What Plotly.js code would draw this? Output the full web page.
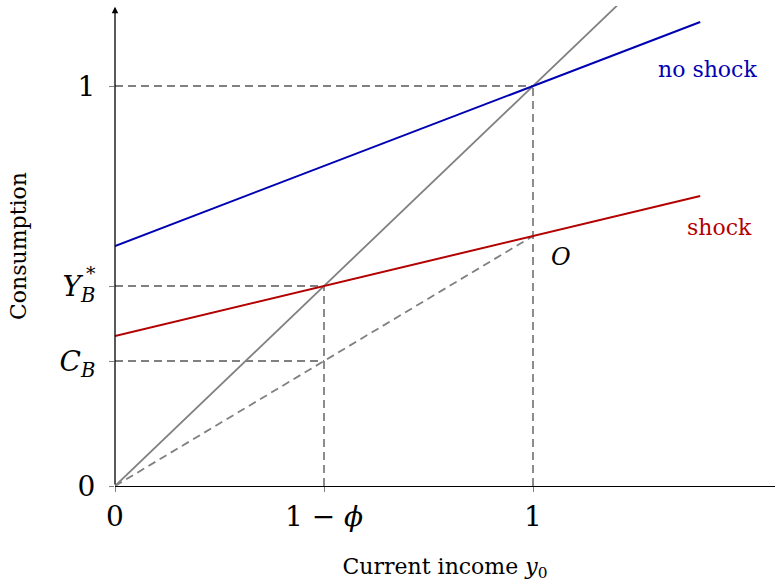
<!DOCTYPE html>
<html><head><meta charset="utf-8">
<script src="https://cdn.plot.ly/plotly-3.0.1.min.js"></script>
<style>html,body{margin:0;padding:0;background:#fff}#c{width:775px;height:586px}</style>
</head><body><div id="c"></div>
<script>
// data
const phi = 0.5;
const noShockX = [0, 1.4];
const noShockY = [0.6, 1.16];
const shockX = [0, 1.4];
const shockY = [0.375, 0.725];
const diagX = [0, 1.25];
const diagY = [0, 1.25];
const rayX = [0, 1];
const rayY = [0, 0.625];
const xTickVals = [0, 1 - phi, 1];
const xTickText = ['0', '1 \u2212 <i>\u03d5</i>', '1'];
const yTickVals = [0, 0.3125, 0.5, 1];
const yTickText = ['0', '<i>C</i><sub><i>B</i></sub>', '<i>Y</i><sub><i>B</i></sub>', '1'];
const guideH = [[0, 1, 1], [0, 0.5, 0.5], [0, 0.5, 0.3125]]; // x0,x1,y
const guideV = [[1, 0, 1], [0.5, 0, 0.5]]; // x,y0,y1

const FONT = 'DejaVu Serif, Liberation Serif, serif';
const BLUE = '#0000b3', RED = '#b30000', GRAY = '#808080';
const DASH = '8px,5px';

const traces = [];
guideH.forEach(g => traces.push({x:[g[0], g[1]], y:[g[2], g[2]], mode:'lines', line:{color:GRAY, width:1.8, dash:DASH}, hoverinfo:'skip'}));
guideV.forEach(g => traces.push({x:[g[0], g[0]], y:[g[1], g[2]], mode:'lines', line:{color:GRAY, width:1.8, dash:DASH}, hoverinfo:'skip'}));
traces.push({x:rayX, y:rayY, mode:'lines', line:{color:GRAY, width:1.8, dash:DASH}});
traces.push({x:diagX, y:diagY, mode:'lines', line:{color:GRAY, width:1.8}});
traces.push({x:noShockX, y:noShockY, mode:'lines', line:{color:BLUE, width:2}});
traces.push({x:shockX, y:shockY, mode:'lines', line:{color:RED, width:2}});

const layout = {
  width:775, height:586,
  margin:{l:115, r:0, t:6, b:100},
  showlegend:false,
  paper_bgcolor:'#fff', plot_bgcolor:'#fff',
  font:{family:FONT, color:'#000'},
  xaxis:{range:[0, 660/418], showgrid:false, zeroline:false, showline:true, linecolor:'#000', linewidth:1.3,
    tickvals:xTickVals, ticktext:xTickText, ticks:'outside', ticklen:5, tickcolor:GRAY, tickwidth:1,
    tickfont:{size:28, family:FONT}, title:{text:'Current income <i>y</i><sub>0</sub>', font:{size:22, family:FONT}, standoff:26}},
  yaxis:{range:[0, 1.2], showgrid:false, zeroline:false, showline:false,
    tickvals:yTickVals, ticktext:yTickText, ticks:'outside', ticklen:5, tickcolor:GRAY, tickwidth:1, ticklabelstandoff:8,
    tickfont:{size:28, family:FONT}, title:{text:'Consumption', font:{size:22, family:FONT}, standoff:26}},
  annotations:[
    {x:0, y:1.198, ax:0, ay:0, axref:'x', ayref:'y', xref:'x', yref:'y', showarrow:true, arrowhead:2, arrowsize:1, arrowwidth:1.3, arrowcolor:'#000', text:''},
    {x:1.418, y:1.042, text:'no shock', showarrow:false, font:{size:22, color:BLUE, family:FONT}, xanchor:'center'},
    {x:1.447, y:0.647, text:'shock', showarrow:false, font:{size:22, color:RED, family:FONT}, xanchor:'center'},
    {x:1.068, y:0.572, text:'<i>O</i>', showarrow:false, font:{size:24, family:FONT}},
    {x:0, y:0.5, xshift:-24, yshift:13, text:'*', showarrow:false, font:{size:19, family:FONT}, xref:'x', yref:'y'}
  ]
};
Plotly.newPlot('c', traces, layout, {staticPlot:true});
</script></body></html>
